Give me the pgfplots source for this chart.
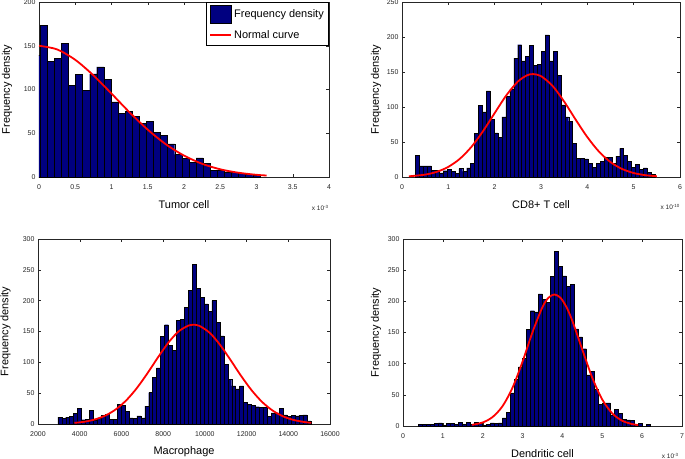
\documentclass[border=0pt]{standalone}
\usepackage{fontspec}
\setmainfont{Liberation Sans}
\usepackage{pgfplots}
\pgfplotsset{compat=1.18}
\definecolor{navy}{RGB}{0,0,128}
\definecolor{curvered}{RGB}{255,0,0}
\pgfplotsset{
  panel/.style={
    scale only axis, anchor=south west, clip mode=individual,
    axis line style={line width=0.5bp, black!85},
    tick align=inside, major tick length=3bp,
    every tick/.style={line width=0.4bp, black!85},
    every tick label/.append style={font=\fontsize{7}{8}\selectfont, text=black!85},
    /pgf/number format/assume math mode=true,
    /pgf/number format/1000 sep={},
    scaled ticks=false,
    xticklabel style={yshift=-4.5bp},
    ymin=0,
    ylabel={Frequency density},
    every axis x label/.style={anchor=center, font=\fontsize{11}{13}\selectfont},
    every axis y label/.style={rotate=90, anchor=center, font=\fontsize{11}{13}\selectfont},
  },
  hist/.style={ybar interval, fill=navy, draw=black, line width=0.35bp},
  normal/.style={curvered, line width=1.8bp, smooth, no marks},
}
\begin{document}
\begin{tikzpicture}
\useasboundingbox (0bp,0bp) rectangle (685bp,-459bp);
% ---------------- Panel 1
\begin{axis}[panel, name=ax1, at={(39bp,-177bp)}, width=290bp, height=175bp,
  xmin=0, xmax=4, ymax=200, xtick={0,0.5,1,1.5,2,2.5,3,3.5,4}, ytick={0,50,100,150,200},
  xlabel={Tumor cell}, xlabel style={at={(axis description cs:0.5,-0.16)}},
  ylabel style={at={(axis description cs:-0.11,0.5)}},
  legend style={at={(1,1)}, anchor=north east, draw=black, line width=0.5bp, fill=white,
    font=\fontsize{11}{13}\selectfont, inner xsep=3bp, inner ysep=3bp, row sep=5bp},
  legend cell align=left]
\addplot[hist, legend image code/.code={\draw[fill=navy,draw=black,line width=0.4bp] (0bp,-9bp) rectangle (21bp,9bp);}] table {
x y
-0.084 139
0.014 173
0.112 132
0.210 136
0.307 153
0.405 105
0.503 117
0.601 99
0.699 118
0.796 126
0.894 112
0.992 86
1.090 73
1.188 75
1.285 69
1.383 61
1.481 64
1.579 51
1.677 48
1.774 38
1.872 26
1.970 21
2.068 17
2.166 22
2.263 16
2.361 8
2.459 8
2.557 6
2.655 5
2.752 4
2.850 3
2.948 2
3.046 0
};
\addlegendentry{Frequency density}
\addplot[normal, legend image code/.code={\draw[curvered,line width=1.8bp] (0bp,0bp) -- (21bp,0bp);}] table {
x y
0 150
0.25 145.8
0.5 133.9
0.75 116.2
1.0 95.3
1.25 73.8
1.5 54.1
1.75 37.4
2.0 24.5
2.25 15.1
2.5 8.8
2.75 4.9
3.0 2.5
3.14 1.7
};
\addlegendentry{Normal curve}
\end{axis}
\node[font=\fontsize{6.5}{7}\selectfont, text=black!85] at ([xshift=-9bp,yshift=-31bp]ax1.south east) {x 10\raisebox{0.6ex}{\fontsize{4.5}{5}\selectfont -3}};
% ---------------- Panel 2
\begin{axis}[panel, name=ax2, at={(402bp,-177bp)}, width=278bp, height=175bp,
  xmin=0, xmax=6, ymax=250, xtick={0,1,2,3,4,5,6}, ytick={0,50,100,150,200,250},
  xlabel={CD8+ T cell}, xlabel style={at={(axis description cs:0.5,-0.16)}},
  ylabel style={at={(axis description cs:-0.0935,0.5)}}]
\addplot[hist] table {
x y
0.295 31
0.380 16
0.464 16
0.549 16
0.634 10
0.719 10
0.803 6
0.888 9
0.973 11
1.057 8
1.142 5
1.227 12
1.311 8
1.396 13
1.481 20
1.566 62
1.650 102
1.735 93
1.820 123
1.904 82
1.989 63
2.074 57
2.158 86
2.243 115
2.328 126
2.413 170
2.497 189
2.582 166
2.667 172
2.751 188
2.836 160
2.921 161
3.005 180
3.090 203
3.175 166
3.260 180
3.344 145
3.429 103
3.514 86
3.598 80
3.683 48
3.768 27
3.852 27
3.937 26
4.022 20
4.107 14
4.191 20
4.276 22
4.361 28
4.445 28
4.530 20
4.615 30
4.699 41
4.784 31
4.869 22
4.954 14
5.038 18
5.123 11
5.208 13
5.292 7
5.377 4
5.462 0
};
\addplot[normal] table {
x y
0.15 1.0
0.5 3.4
0.75 7.4
1.0 14.5
1.25 26.1
1.5 43.2
1.75 65.6
2.0 91.3
2.25 116.5
2.5 136.3
2.7 145.3
2.83 147
3.0 144.1
3.25 130.1
3.5 107.7
3.75 81.8
4.0 57.0
4.25 36.4
4.5 21.3
4.75 11.5
5.0 5.7
5.25 2.6
5.5 1.1
};
\end{axis}
\node[font=\fontsize{6.5}{7}\selectfont, text=black!85] at ([xshift=-10bp,yshift=-30bp]ax2.south east) {x 10\raisebox{0.6ex}{\fontsize{4.5}{5}\selectfont -10}};
% ---------------- Panel 3
\begin{axis}[panel, name=ax3, at={(38bp,-424bp)}, width=292bp, height=185bp,
  xmin=2000, xmax=16000, ymax=300, xtick={2000,4000,6000,8000,10000,12000,14000,16000}, ytick={0,50,100,150,200,250,300},
  xlabel={Macrophage}, xlabel style={at={(axis description cs:0.5,-0.151)}},
  ylabel style={at={(axis description cs:-0.111,0.5)}}]
\addplot[hist] table {
x y
2950 11
3139.5 9
3329 11
3518.5 12
3708 17
3897.5 25
4087 7
4276.5 8
4466 22
4655.5 6
4845 10
5034.5 14
5224 16
5413.5 8
5603 8
5792.5 32
5982 30
6171.5 20
6361 10
6550.5 9
6740 13
6929.5 10
7119 29
7308.5 51
7498 76
7687.5 91
7877 142
8066.5 161
8256 128
8445.5 119
8635 168
8824.5 170
9014 189
9203.5 217
9393 259
9582.5 220
9772 205
9961.5 195
10151 183
10340.5 200
10530 165
10719.5 143
10909 97
11098.5 72
11288 62
11477.5 57
11667 62
11856.5 35
12046 32
12235.5 30
12425 28
12614.5 27
12804 27
12993.5 12
13183 18
13372.5 18
13562 25
13751.5 15
13941 12
14130.5 14
14320 13
14509.5 14
14699 15
14888.5 5
15078 0
};
\addplot[normal] table {
x y
3750 1.8
4250 3.8
4750 7.6
5250 14.0
5750 24.2
6250 39.0
6750 58.7
7250 82.4
7750 107.9
8250 131.9
8750 150.4
9250 160.1
9450 161
9750 159.0
10250 147.3
10750 127.4
11250 102.8
11750 77.4
12250 54.4
12750 35.6
13250 21.8
13750 12.4
14250 6.6
14750 3.3
15100 1.9
};
\end{axis}
% ---------------- Panel 4
\begin{axis}[panel, name=ax4, at={(403bp,-426bp)}, width=279bp, height=187bp,
  xmin=0, xmax=7, ymax=300, xtick={0,1,2,3,4,5,6,7}, ytick={0,50,100,150,200,250,300},
  xlabel={Dendritic cell}, xlabel style={at={(axis description cs:0.5,-0.15)}},
  ylabel style={at={(axis description cs:-0.0968,0.5)}}]
\addplot[hist] table {
x y
0.386 3
0.486 3
0.587 3
0.687 3
0.787 4
0.888 5
0.988 1
1.088 4
1.188 4
1.289 3
1.389 6
1.489 3
1.590 6
1.690 3
1.790 6
1.891 4
1.991 1
2.091 3
2.191 5
2.292 4
2.392 5
2.492 13
2.593 22
2.693 53
2.793 75
2.894 95
2.994 109
3.094 155
3.194 185
3.295 183
3.395 212
3.495 203
3.596 198
3.696 240
3.796 280
3.897 256
3.997 241
4.097 224
4.197 227
4.298 156
4.398 143
4.498 124
4.599 82
4.699 88
4.799 59
4.900 35
5.000 37
5.100 37
5.200 18
5.301 27
5.401 20
5.501 11
5.602 10
5.702 9
5.802 3
5.903 4
6.003 0
6.103 3
6.203 0
};
\addplot[normal] table {
x y
1.73 1.8
2.0 5.7
2.25 14.5
2.5 32.1
2.75 61.8
3.0 103.4
3.25 150.7
3.5 190.9
3.65 205.8
3.8 211
3.95 205.8
4.1 190.9
4.25 168.4
4.5 122.3
4.75 77.2
5.0 42.4
5.25 20.3
5.5 8.4
5.75 3.1
5.9 1.6
};
\end{axis}
\node[font=\fontsize{6.5}{7}\selectfont, text=black!85] at ([xshift=-12bp,yshift=-30bp]ax4.south east) {x 10\raisebox{0.6ex}{\fontsize{4.5}{5}\selectfont -3}};
\end{tikzpicture}
\end{document}
